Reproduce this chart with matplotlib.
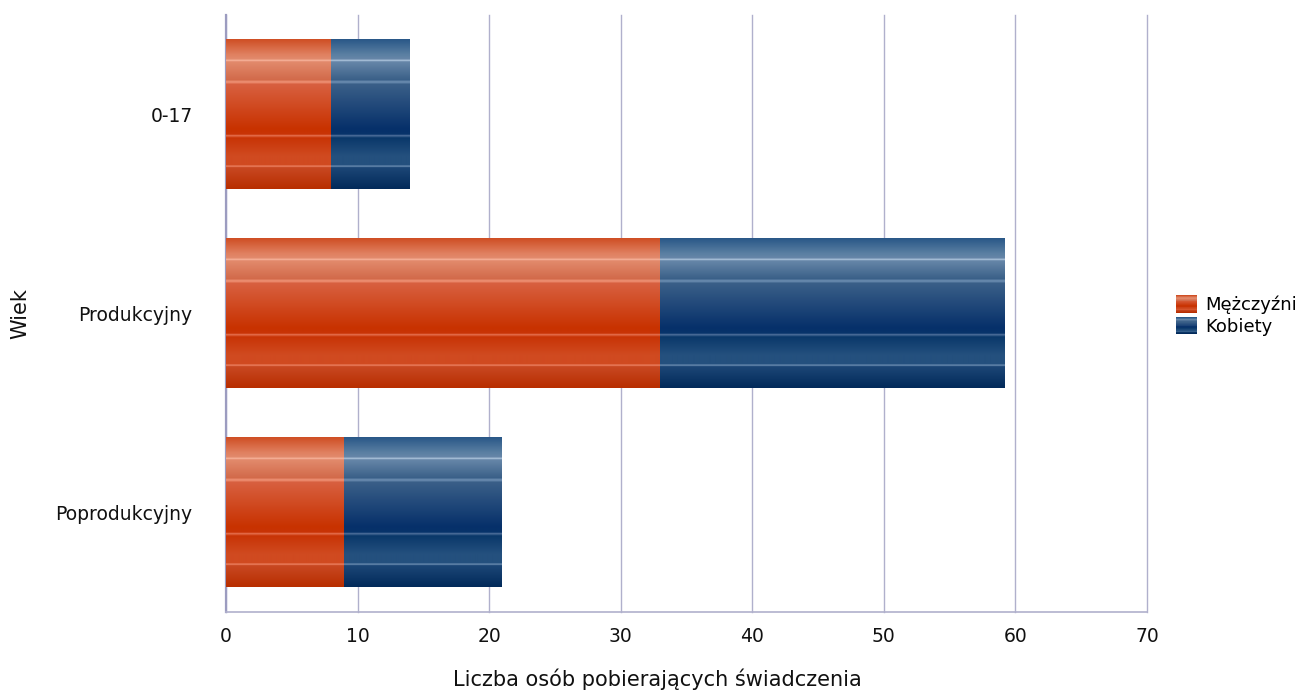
import numpy as np
import matplotlib
matplotlib.use('Agg')
import matplotlib.pyplot as plt
from matplotlib.colors import to_rgb
from matplotlib.patches import Rectangle
from matplotlib.legend_handler import HandlerBase

plt.rcParams['font.family'] = ['DejaVu Sans']

# dane
kategorie = ['0-17', 'Produkcyjny', 'Poprodukcyjny']
mezczyzni = [8, 33, 9]
kobiety = [6, 26.2, 12]
serie = ['Mężczyźni', 'Kobiety']

# gradienty (pozycja, kolor)
grad_m = [(0.0, '#cf4f25'), (0.10, '#e08060'), (0.13, '#e28a6c'), (0.14, '#f5b098'), (0.15, '#e28a6c'),
          (0.27, '#d26a4a'), (0.285, '#f09478'), (0.30, '#d86040'), (0.60, '#c83200'),
          (0.635, '#c83406'), (0.645, '#e46c4a'), (0.66, '#c83406'), (0.78, '#d04a20'),
          (0.84, '#d04a20'), (0.85, '#ec8060'), (0.86, '#c84822'), (1.0, '#b82e00')]
grad_k = [(0.0, '#2a5888'), (0.10, '#5a7fa2'), (0.13, '#6686a8'), (0.14, '#a8c0d8'), (0.15, '#6686a8'),
          (0.27, '#3a6088'), (0.285, '#7090b4'), (0.30, '#3a5f88'), (0.60, '#06306a'),
          (0.635, '#08346a'), (0.645, '#4a6c98'), (0.66, '#0a386a'), (0.78, '#24507e'),
          (0.84, '#24507e'), (0.85, '#6a8cb0'), (0.86, '#1c4676'), (1.0, '#022a5a')]


def gradient(stops, n=150):
    pos = np.array([s[0] for s in stops])
    cols = np.array([to_rgb(s[1]) for s in stops])
    t = np.linspace(0, 1, n)
    img = np.stack([np.interp(t, pos, cols[:, i]) for i in range(3)], axis=1)
    return img[:, None, :]


class HandlerGrad(HandlerBase):
    def __init__(self, stops):
        super().__init__()
        self.stops = stops

    def create_artists(self, legend, orig_handle, xdescent, ydescent, width, height, fontsize, trans):
        img = gradient(self.stops, 20)[:, 0, :]
        arts = []
        n = len(img)
        for i, c in enumerate(img):
            y0 = -ydescent + height * (1 - (i + 1) / n)
            arts.append(Rectangle((-xdescent, y0), width, height / n + 0.05, facecolor=c,
                                  edgecolor='none', transform=trans))
        return arts


fig = plt.figure(figsize=(13.05, 6.92), dpi=100)
ax = fig.add_axes([0.1732, 0.1156, 0.7057, 0.8627])

h = 0.75
img_m = gradient(grad_m)
img_k = gradient(grad_k)
for i in range(len(kategorie)):
    ax.imshow(img_m, extent=[0, mezczyzni[i], i + h / 2, i - h / 2], aspect='auto',
              origin='upper', zorder=3, interpolation='bilinear')
    ax.imshow(img_k, extent=[mezczyzni[i], mezczyzni[i] + kobiety[i], i + h / 2, i - h / 2],
              aspect='auto', origin='upper', zorder=3, interpolation='bilinear')

ax.set_xlim(0, 70)
ax.set_ylim(2.5, -0.5)
ax.set_xticks(range(0, 71, 10))
ax.set_yticks(range(len(kategorie)))
ax.set_yticklabels(kategorie)
ax.tick_params(length=0, labelsize=13.5, colors='#111111')
ax.tick_params(axis='y', pad=24)
ax.tick_params(axis='x', pad=11)
ax.grid(axis='x', color='#b0b0cc', lw=1, zorder=0)
for gl in ax.get_xgridlines():
    gl.set_clip_on(False)
ax.set_axisbelow(True)
for s in ['top', 'right']:
    ax.spines[s].set_visible(False)
ax.spines['left'].set_color('#9c9cc0')
ax.spines['left'].set_linewidth(1.6)
ax.spines['bottom'].set_color('#b0b0cc')
ax.spines['bottom'].set_linewidth(1.2)

ax.set_xlabel('Liczba osób pobierających świadczenia', fontsize=15, labelpad=14, color='#111111')
ax.xaxis.set_label_coords(0.468, -0.095)
ax.set_ylabel('Wiek', fontsize=15, color='#111111')
ax.yaxis.set_label_coords(-0.212, 0.5)

h1 = Rectangle((0, 0), 1, 1)
h2 = Rectangle((0, 0), 1, 1)
fig.legend([h1, h2], serie, loc='center left', bbox_to_anchor=(0.901, 0.544),
           frameon=False, fontsize=13, handlelength=1.16, handleheight=1.1,
           handletextpad=0.45, labelspacing=0.15, borderpad=0, borderaxespad=0,
           handler_map={h1: HandlerGrad(grad_m), h2: HandlerGrad(grad_k)})

fig.savefig('out.png', dpi=100)
